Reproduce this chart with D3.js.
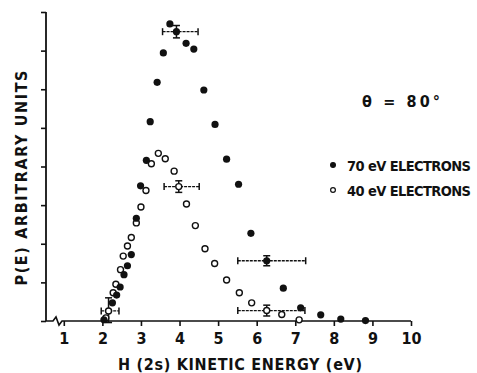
<!DOCTYPE html>
<html><head><meta charset="utf-8">
<script src="https://cdn.jsdelivr.net/npm/d3@7"></script>
<style>body{margin:0;background:#fff}</style>
</head><body><svg id="c" width="477" height="373"></svg>
<script>
// ---- data ----
const xTickValues = [1,2,3,4,5,6,7,8,9,10];
const yTickValues = [0,1,2,3,4,5,6,7,8];
const energy70 = [2.04,2.26,2.37,2.46,2.56,2.65,2.75,2.88,2.99,3.14,3.24,3.42,3.58,3.75,4.17,4.37,4.63,4.92,5.22,5.53,5.85,6.69,7.14,7.66,8.18,8.82];
const pe70     = [0.03,0.47,0.67,0.88,1.20,1.43,1.72,2.66,3.50,4.16,5.16,6.18,6.94,7.69,7.19,7.04,5.98,5.09,4.19,3.54,2.27,0.85,0.34,0.16,0.05,0.01];
const energy40 = [2.09,2.28,2.35,2.47,2.54,2.65,2.75,2.88,3.00,3.13,3.27,3.45,3.63,3.86,4.18,4.41,4.66,4.91,5.22,5.55,5.87,6.65,7.10];
const pe40     = [0.08,0.73,0.95,1.33,1.68,1.94,2.16,2.54,2.95,3.38,4.07,4.34,4.20,3.88,3.03,2.47,1.87,1.49,1.06,0.73,0.47,0.17,0.03];
// points carrying error bars: energy, P, energy low, energy high, P low, P high
const err70 = [[3.92,7.49,3.56,4.48,7.33,7.65],[6.26,1.56,5.51,7.27,1.43,1.69]];
const err40 = [[2.16,0.26,1.97,2.43,-0.04,0.60],[3.98,3.48,3.60,4.51,3.33,3.63],[6.26,0.27,5.51,7.25,0.13,0.41]];
const legendLabels = ["70 eV ELECTRONS","40 eV ELECTRONS"];
const angleLabel = "θ = 80°";
const xTitle = "H (2s)  KINETIC  ENERGY  (eV)";
const yTitle = "P(E)   ARBITRARY  UNITS";

// ---- chart ----
const svg = d3.select("#c");
const ink = "#111";
const font = "'DejaVu Sans Condensed','DejaVu Sans',sans-serif";
const x = d3.scaleLinear().domain([1,10]).range([63.8,411]);
const y = d3.scaleLinear().domain([0,8]).range([321,12]);
const x0 = 46;

// x axis
const gx = svg.append("g").attr("transform",`translate(0,${y(0)})`)
  .call(d3.axisBottom(x).tickValues(xTickValues).tickSize(5).tickPadding(7).tickFormat(d3.format("d")));
gx.select(".domain").remove();
gx.selectAll(".tick line").attr("stroke",ink).attr("stroke-width",1.6);
gx.selectAll("text").attr("font-family",font).attr("font-size",16).attr("font-weight","bold").attr("fill",ink);
// axis line with break
const y0 = y(0);
svg.append("path")
  .attr("d",`M${x0},${y0}H${x0+7}L${x0+10},${y0-4}L${x0+13},${y0+4}L${x0+16},${y0}H${x(10)}`)
  .attr("fill","none").attr("stroke",ink).attr("stroke-width",1.6);

// y axis
const gy = svg.append("g").attr("transform",`translate(${x0},0)`)
  .call(d3.axisLeft(y).tickValues(yTickValues).tickSize(5).tickFormat(""));
gy.select(".domain").remove();
gy.selectAll(".tick line").attr("stroke",ink).attr("stroke-width",1.6);
svg.append("line").attr("x1",x0).attr("x2",x0).attr("y1",y(8)).attr("y2",y(0))
  .attr("stroke",ink).attr("stroke-width",1.8);

// titles
svg.append("text").attr("x",240).attr("y",370).attr("text-anchor","middle")
  .attr("font-family",font).attr("font-size",16).attr("font-weight","bold").attr("fill",ink)
  .attr("textLength",244).attr("lengthAdjust","spacing").text(xTitle);
svg.append("text").attr("transform","translate(27,178) rotate(-90)").attr("text-anchor","middle")
  .attr("font-family",font).attr("font-size",16).attr("font-weight","bold").attr("fill",ink)
  .attr("textLength",215).attr("lengthAdjust","spacing").text(yTitle);

// error bars
function drawErr(g,d){
  const cy = y(d[1]), cx = x(d[0]);
  g.append("line").attr("x1",x(d[2])).attr("x2",x(d[3])).attr("y1",cy).attr("y2",cy)
    .attr("stroke",ink).attr("stroke-width",1.3).attr("stroke-dasharray","3,1");
  [d[2],d[3]].forEach(v=>g.append("line").attr("x1",x(v)).attr("x2",x(v)).attr("y1",cy-3.5).attr("y2",cy+3.5).attr("stroke",ink).attr("stroke-width",1.5));
  g.append("line").attr("x1",cx).attr("x2",cx).attr("y1",y(d[4])).attr("y2",y(d[5])).attr("stroke",ink).attr("stroke-width",1.5);
  [d[4],d[5]].forEach(v=>g.append("line").attr("x1",cx-3.5).attr("x2",cx+3.5).attr("y1",y(v)).attr("y2",y(v)).attr("stroke",ink).attr("stroke-width",1.5));
}
const ge = svg.append("g");
err70.forEach(d=>drawErr(ge,d));
err40.forEach(d=>drawErr(ge,d));

// points
svg.append("g").selectAll("circle").data(energy40.map((e,i)=>[e,pe40[i]]).concat(err40.map(d=>[d[0],d[1]])))
  .join("circle").attr("cx",d=>x(d[0])).attr("cy",d=>y(d[1])).attr("r",3)
  .attr("fill","#fff").attr("stroke",ink).attr("stroke-width",1.4);
svg.append("g").selectAll("circle").data(energy70.map((e,i)=>[e,pe70[i]]).concat(err70.map(d=>[d[0],d[1]])))
  .join("circle").attr("cx",d=>x(d[0])).attr("cy",d=>y(d[1])).attr("r",3.6)
  .attr("fill",ink);

// legend
svg.append("text").attr("x",362).attr("y",107).attr("font-family",font).attr("font-size",16)
  .attr("font-weight","bold").attr("fill",ink).attr("textLength",78).attr("lengthAdjust","spacing").text(angleLabel);
const lg = svg.append("g");
legendLabels.forEach((t,i)=>{
  const ly = 165 + i*25;
  lg.append("circle").attr("cx",333).attr("cy",ly).attr("r",2.4)
    .attr("fill",i===0?ink:"#fff").attr("stroke",ink).attr("stroke-width",1.2);
  lg.append("text").attr("x",347).attr("y",ly+6).attr("font-family",font).attr("font-size",14.5)
    .attr("font-weight","bold").attr("fill",ink).attr("textLength",124).attr("lengthAdjust","spacing").text(t);
});
</script></body></html>
